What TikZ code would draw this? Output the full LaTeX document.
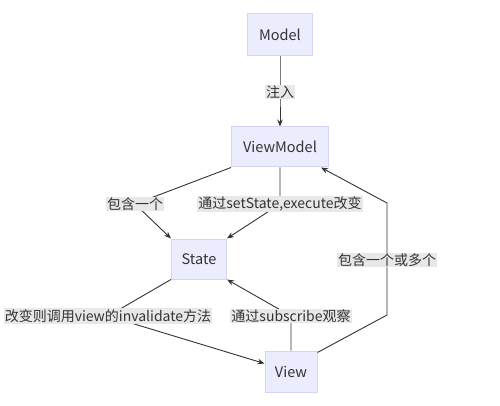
\documentclass[tikz,border=0pt]{standalone}
\usepackage{fontspec}
\setmainfont{Noto Sans CJK SC}
\usetikzlibrary{arrows.meta}
\definecolor{boxFill}{HTML}{ECECFF}
\definecolor{boxLine}{HTML}{D4D4F7}
\definecolor{labelFill}{HTML}{E8E8E8}
\definecolor{inkGray}{HTML}{333333}
\begin{document}
\begin{tikzpicture}[x=1pt,y=-1pt,font=\fontsize{14.5pt}{17pt}\selectfont,
entity/.style={draw=boxLine,fill=boxFill,line width=1pt,text=inkGray,inner sep=0pt},
edgeLabel/.style={fill=labelFill,text=inkGray,inner sep=1pt,font=\fontsize{14pt}{16pt}\selectfont},
link/.style={draw=inkGray,line width=0.9pt,-{Stealth[length=7pt,width=5.5pt]}}]
\path[use as bounding box] (0,0) rectangle (500,406);
% entities
\node[entity,minimum width=65pt,minimum height=42pt] (model) at (280,35) {Model};
\node[entity,minimum width=97pt,minimum height=40pt] (vm) at (280,147) {ViewModel};
\node[entity,minimum width=55pt,minimum height=40pt] (state) at (199,259) {State};
\node[entity,minimum width=52pt,minimum height=41pt] (view) at (291,371.5) {View};
% label positions
\coordinate (inject) at (280,92);
\coordinate (hasOne) at (135,204);
\coordinate (setExec) at (280,204);
\coordinate (invalidate) at (108,316);
\coordinate (subscribe) at (291,316);
\coordinate (hasMany) at (387,260);
\coordinate (bendLow) at (387,315);
\coordinate (bendHigh) at (387,203);
% connectors
\draw[link] (model) -- (inject) -- (vm);
\draw[link] (vm.south west) -- (hasOne) -- (state.north west);
\draw[link] (vm.south) -- (setExec) -- (state.north east);
\draw[link] (state.south west) -- (invalidate) -- ([yshift=8pt]view.west);
\draw[link] (view.north) -- (subscribe) -- (state.south east);
\draw[link] ([yshift=-2pt]view.north east) -- (bendLow) -- (bendHigh) -- ([xshift=-8pt]vm.south east);
% edge labels
\node[edgeLabel] (injectLbl) at (inject) {注入};
\node[edgeLabel] (hasOneLbl) at (hasOne) {包含一个};
\node[edgeLabel] (setExecLbl) at (setExec) {通过setState,execute改变};
\node[edgeLabel] (invalidateLbl) at (invalidate) {改变则调用view的invalidate方法};
\node[edgeLabel] (subscribeLbl) at (subscribe) {通过subscribe观察};
\node[edgeLabel] (hasManyLbl) at (hasMany) {包含一个或多个};
\end{tikzpicture}
\end{document}
